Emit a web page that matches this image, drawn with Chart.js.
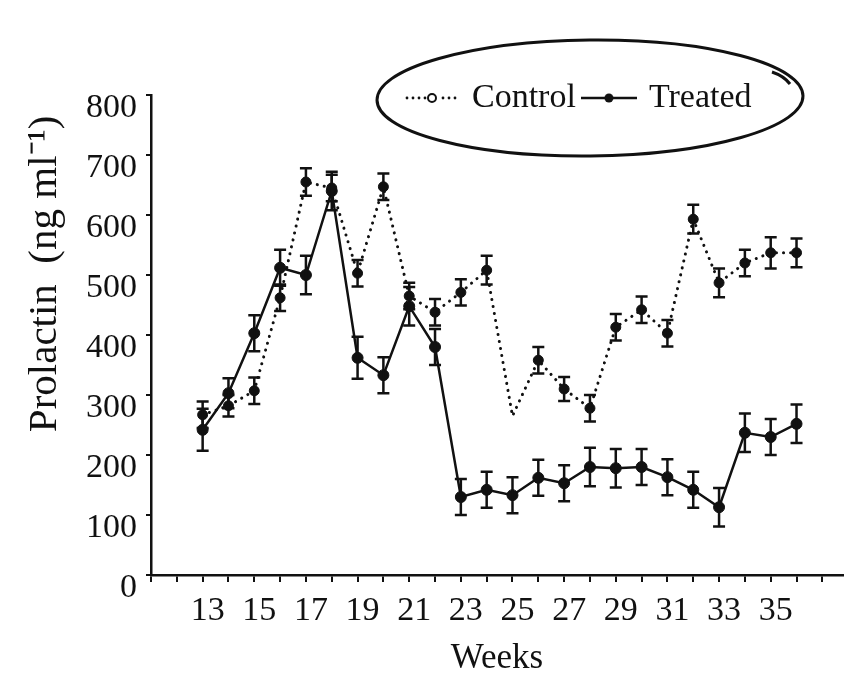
<!DOCTYPE html>
<html><head><meta charset="utf-8">
<script src="https://cdn.jsdelivr.net/npm/chart.js@4"></script>
<style>html,body{margin:0;padding:0;background:#fff}#wrap{width:850px;height:685px}</style>
</head><body><div id="wrap"><canvas id="c" width="850" height="685"></canvas></div>
<script>
const weeks = [13,14,15,16,17,18,19,20,21,22,23,24,25,26,27,28,29,30,31,32,33,34,35,36];
const controlValues = [267,282,307,462,655,645,503,647,465,438,471,508,265,358,310,278,413,442,403,593,487,520,537,537];
const controlErrors = [22,18,22,22,23,22,22,22,22,22,22,24,0,22,20,22,22,22,22,24,24,22,26,24];
const treatedValues = [242,303,403,512,500,640,362,333,448,380,130,142,133,162,153,180,178,180,163,142,113,237,230,252];
const treatedErrors = [35,25,30,30,32,32,35,30,32,30,30,30,30,30,30,32,32,30,30,30,32,32,30,32];
const xTickLabels = [13,15,17,19,21,23,25,27,29,31,33,35];
const yTickValues = [0,100,200,300,400,500,600,700,800];
const seriesNames = ['Control','Treated'];

const INK = '#111';
const FONT = 'Liberation Serif';

function makeSymbol(dotted) {
  const c = document.createElement('canvas');
  c.width = 56; c.height = 14;
  const g = c.getContext('2d');
  g.strokeStyle = INK; g.fillStyle = INK;
  if (dotted) {
    for (let x = 3; x < 56; x += 6) {
      if (x > 21 && x < 35) continue;
      g.beginPath(); g.arc(x, 7, 1.4, 0, Math.PI * 2); g.fill();
    }
    g.lineWidth = 2; g.fillStyle = '#fff';
    g.beginPath(); g.arc(28, 7, 4, 0, Math.PI * 2); g.fill(); g.stroke();
  } else {
    g.lineWidth = 2.5;
    g.beginPath(); g.moveTo(0, 7); g.lineTo(56, 7); g.stroke();
    g.beginPath(); g.arc(28, 7, 4.5, 0, Math.PI * 2); g.fill();
  }
  return c;
}
const symbols = [makeSymbol(true), makeSymbol(false)];

const toPoints = (vals) => weeks.map((w, i) => ({x: w, y: vals[i]}));
const errorsByDataset = [controlErrors, treatedErrors];
const valuesByDataset = [controlValues, treatedValues];

const errorBars = {
  id: 'errorBars',
  afterDatasetsDraw(chart) {
    const ctx = chart.ctx;
    const ys = chart.scales.y;
    ctx.save();
    ctx.strokeStyle = INK;
    ctx.lineWidth = 2.5;
    [0, 1].forEach(di => {
      const meta = chart.getDatasetMeta(di);
      meta.data.forEach((pt, i) => {
        const e = errorsByDataset[di][i];
        if (!e) return;
        const v = valuesByDataset[di][i];
        const x = pt.x;
        const yTop = ys.getPixelForValue(v + e);
        const yBot = ys.getPixelForValue(v - e);
        ctx.beginPath();
        ctx.moveTo(x, yTop); ctx.lineTo(x, yBot);
        ctx.moveTo(x - 6, yTop); ctx.lineTo(x + 6, yTop);
        ctx.moveTo(x - 6, yBot); ctx.lineTo(x + 6, yBot);
        ctx.stroke();
      });
    });
    ctx.restore();
  }
};

const legendMover = {
  id: 'legendMover',
  afterLayout(chart) {
    const lg = chart.legend;
    if (!lg) return;
    const h = lg.height;
    lg.left = 399;
    lg.right = 850;
    lg.top = 71;
    lg.bottom = 71 + h;
  }
};

const ellipse = {
  id: 'ellipse',
  afterDraw(chart) {
    const ctx = chart.ctx;
    ctx.save();
    ctx.strokeStyle = INK;
    ctx.lineWidth = 3;
    ctx.beginPath();
    ctx.ellipse(590, 98, 213, 58, -0.01, 0, Math.PI * 2);
    ctx.stroke();
    ctx.beginPath();
    ctx.moveTo(772, 72); ctx.quadraticCurveTo(784, 76, 790, 84);
    ctx.stroke();
    ctx.restore();
  }
};

new Chart(document.getElementById('c'), {
  type: 'line',
  data: {
    datasets: [
      {
        label: seriesNames[0],
        data: toPoints(controlValues),
        borderColor: INK,
        borderWidth: 3,
        borderDash: [0.1, 7],
        borderCapStyle: 'round',
        pointRadius: controlErrors.map(e => e ? 5 : 0),
        pointBackgroundColor: INK,
        pointBorderColor: INK,
        pointBorderWidth: 1,
        tension: 0
      },
      {
        label: seriesNames[1],
        data: toPoints(treatedValues),
        borderColor: INK,
        borderWidth: 2.5,
        pointRadius: 5.5,
        pointBackgroundColor: INK,
        pointBorderColor: INK,
        pointBorderWidth: 1,
        tension: 0
      }
    ]
  },
  options: {
    responsive: false,
    animation: false,
    devicePixelRatio: 1,
    layout: { padding: { top: 41, right: 7, bottom: 0, left: 0 } },
    plugins: {
      tooltip: { enabled: false },
      legend: {
        display: true,
        position: 'top',
        align: 'start',
        labels: {
          usePointStyle: true,
          pointStyleWidth: 46,
          padding: 10,
          color: INK,
          font: { family: FONT, size: 34 },
          generateLabels: () => seriesNames.map((n, i) => ({
            text: n, pointStyle: symbols[i], fillStyle: INK, strokeStyle: INK,
            lineWidth: 0, hidden: false, datasetIndex: i, fontColor: INK
          }))
        }
      }
    },
    scales: {
      x: {
        type: 'linear',
        min: 11,
        max: 37.8,
        afterFit: (s) => { s.height = 110; },
        border: { display: true, color: INK, width: 2.5 },
        grid: { drawOnChartArea: false, drawTicks: true, tickLength: 7, color: INK, lineWidth: 2 },
        ticks: {
          stepSize: 1,
          includeBounds: false,
          autoSkip: false,
          maxRotation: 0,
          padding: 9,
          labelOffset: 5,
          color: INK,
          font: { family: FONT, size: 34 },
          callback: (v) => xTickLabels.includes(v) ? String(v) : ''
        },
        title: {
          display: true,
          text: 'Weeks',
          color: INK,
          font: { family: FONT, size: 35 },
          padding: { top: 0, bottom: 5 }
        }
      },
      y: {
        min: 0,
        max: 800,
        afterFit: (s) => { s.width = 151; },
        border: { display: true, color: INK, width: 2.5 },
        grid: { drawOnChartArea: false, drawTicks: true, tickLength: 5, color: INK, lineWidth: 2 },
        afterBuildTicks: (s) => { s.ticks = yTickValues.map(v => ({value: v})); },
        ticks: {
          padding: 9,
          labelOffset: 13,
          color: INK,
          font: { family: FONT, size: 34 }
        },
        title: {
          display: true,
          text: 'Prolactin  (ng ml\u207B\u00B9)  ',
          align: 'end',
          color: INK,
          font: { family: FONT, size: 41 },
          padding: { top: 21, bottom: 0 }
        }
      }
    }
  },
  plugins: [errorBars, legendMover, ellipse]
});
</script>
</body></html>
